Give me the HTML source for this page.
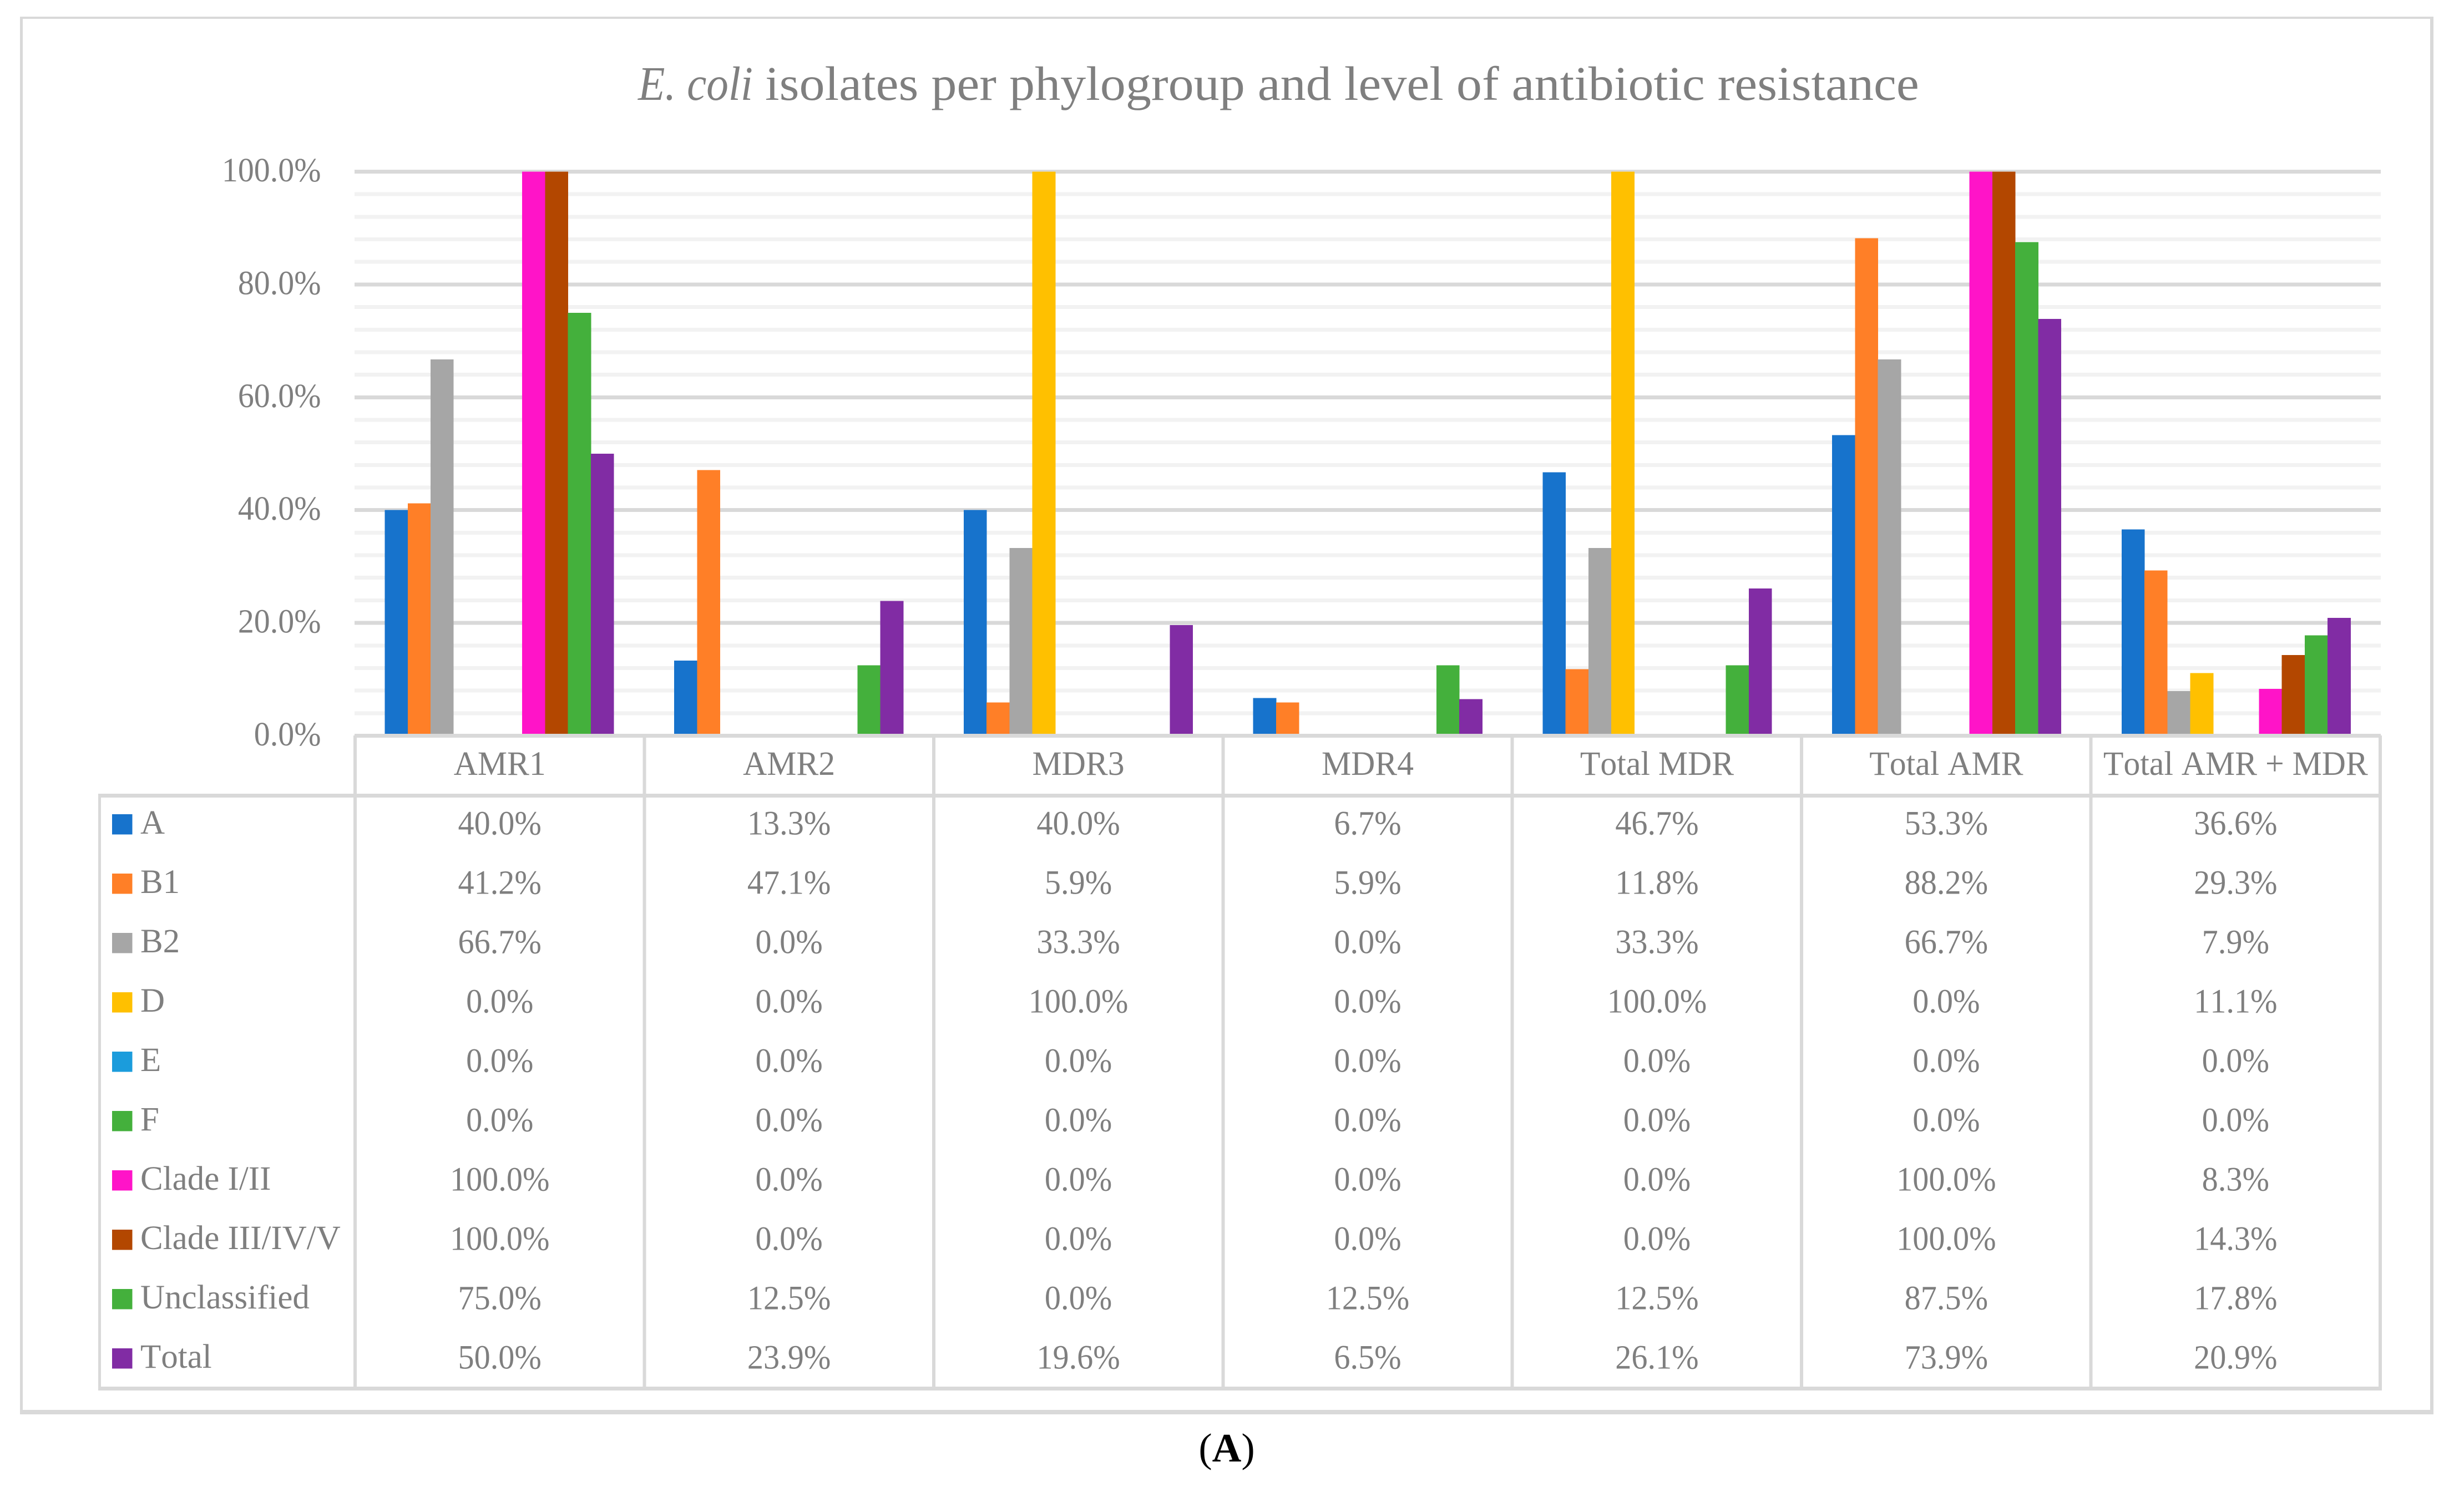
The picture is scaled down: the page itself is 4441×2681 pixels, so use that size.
<!DOCTYPE html>
<html lang="en">
<head>
<meta charset="utf-8">
<title>E. coli isolates per phylogroup and level of antibiotic resistance</title>
<style>
html,body{margin:0;padding:0;background:#fff;}
body{width:4441px;height:2681px;overflow:hidden;}
svg{display:block;position:absolute;left:0;top:0;}
text{font-family:"Liberation Serif",serif;font-kerning:none;}
</style>
</head>
<body>
<svg id="chart" xmlns="http://www.w3.org/2000/svg" width="4441" height="2681" viewBox="0 0 4441 2681">
  <rect x="0" y="0" width="4441" height="2681" fill="#ffffff"/>
  <g fill="#d9d9d9" shape-rendering="crispEdges">
    <rect x="36" y="30" width="4350" height="4"/>
    <rect x="36" y="2542" width="4350" height="8"/>
    <rect x="36" y="30" width="5" height="2520"/>
    <rect x="4380" y="30" width="6" height="2520"/>
  </g>
  <g fill="#7f7f7f" font-size="87">
    <text id="title-italic" font-style="italic">E. coli</text>
    <text id="title-rest">isolates per phylogroup and level of antibiotic resistance</text>
  </g>
  <g id="grid" shape-rendering="crispEdges"></g>
  <g id="bars" shape-rendering="crispEdges"></g>
  <g id="ticks" fill="#7f7f7f"></g>
  <g id="table" fill="#7f7f7f"></g>
  <text x="2211" y="2635" font-size="73" text-anchor="middle" fill="#000000">(<tspan font-weight="bold">A</tspan>)</text>
</svg>
<script>
const categories = ["AMR1", "AMR2", "MDR3", "MDR4", "Total MDR", "Total AMR", "Total AMR + MDR"];
const seriesNames = ["A", "B1", "B2", "D", "E", "F", "Clade I/II", "Clade III/IV/V", "Unclassified", "Total"];
const seriesColors = ["#1773cc", "#ff7f27", "#a6a6a6", "#ffc000", "#1b9cdc", "#44b03c", "#ff14c8", "#b34700", "#44b03c", "#812ca4"];
const valuesA = [40.0, 13.3, 40.0, 6.7, 46.7, 53.3, 36.6];
const valuesB1 = [41.2, 47.1, 5.9, 5.9, 11.8, 88.2, 29.3];
const valuesB2 = [66.7, 0.0, 33.3, 0.0, 33.3, 66.7, 7.9];
const valuesD = [0.0, 0.0, 100.0, 0.0, 100.0, 0.0, 11.1];
const valuesE = [0.0, 0.0, 0.0, 0.0, 0.0, 0.0, 0.0];
const valuesF = [0.0, 0.0, 0.0, 0.0, 0.0, 0.0, 0.0];
const valuesCladeI = [100.0, 0.0, 0.0, 0.0, 0.0, 100.0, 8.3];
const valuesCladeIII = [100.0, 0.0, 0.0, 0.0, 0.0, 100.0, 14.3];
const valuesUnclassified = [75.0, 12.5, 0.0, 12.5, 12.5, 87.5, 17.8];
const valuesTotal = [50.0, 23.9, 19.6, 6.5, 26.1, 73.9, 20.9];
const yTickValues = [0, 20, 40, 60, 80, 100];
const yMinorStep = 4;

const allSeries = [valuesA, valuesB1, valuesB2, valuesD, valuesE, valuesF, valuesCladeI, valuesCladeIII, valuesUnclassified, valuesTotal];

const NS = "http://www.w3.org/2000/svg";
const plotLeft = 639, plotRight = 4291;
const y0 = 1326.5, y100 = 309.5;
const tableLeft = 177, tableRight = 4293;
const rowHeight = 107;
const bandWidth = (plotRight - plotLeft) / categories.length;
const bandGap = 54.5;
const barWidth = (bandWidth - 2 * bandGap) / seriesNames.length;
const colLeft = 640, colWidth = 521.43;

function yScale(v) { return y0 - (v / 100) * (y0 - y100); }
function xScale(catIndex, seriesIndex) { return plotLeft + catIndex * bandWidth + bandGap + seriesIndex * barWidth; }

function makeRect(parent, x, y, w, h, fill) {
  const r = document.createElementNS(NS, "rect");
  r.setAttribute("x", x);
  r.setAttribute("y", y);
  r.setAttribute("width", w);
  r.setAttribute("height", h);
  r.setAttribute("fill", fill);
  parent.appendChild(r);
  return r;
}
function makeText(parent, str, x, y, size, anchor, sx) {
  const t = document.createElementNS(NS, "text");
  t.setAttribute("transform", "translate(" + x + " " + y + ") scale(" + sx + " 1)");
  t.setAttribute("font-size", size);
  t.setAttribute("text-anchor", anchor);
  t.setAttribute("fill", "#7f7f7f");
  t.textContent = str;
  parent.appendChild(t);
  return t;
}

const grid = document.getElementById("grid");
for (let v = 0; v <= 100; v += yMinorStep) {
  if (v % 20 === 0) continue;
  const line = makeRect(grid, plotLeft, yScale(v) - 3.5, plotRight - plotLeft, 7, "#f2f2f2");
  
  
}
yTickValues.forEach(function (v) {
  if (v === 0) return;
  const line = makeRect(grid, plotLeft, yScale(v) - 3.5, plotRight - plotLeft, 7, "#d9d9d9");
  
  
});

const barsGroup = document.getElementById("bars");
allSeries.forEach(function (vals, s) {
  vals.forEach(function (v, c) {
    if (v <= 0) return;
    const bar = makeRect(barsGroup, xScale(c, s), yScale(v), barWidth + 0.4, y0 - yScale(v), seriesColors[s]);
    
    
  });
});

const ticksGroup = document.getElementById("ticks");
yTickValues.forEach(function (v) {
  const label = makeText(ticksGroup, v.toFixed(1) + "%", 578.5, yScale(v) + 17.5, 61, "end", 0.95);
  
  
});

const table = document.getElementById("table");
const lines = document.createElementNS(NS, "g");


lines.setAttribute("shape-rendering", "crispEdges");
table.appendChild(lines);

const axisLine = makeRect(lines, plotLeft, 1323, plotRight - plotLeft, 7, "#d9d9d9");


const headerLine = makeRect(lines, tableLeft, 1431, tableRight - tableLeft, 7, "#d9d9d9");


const bottomLine = makeRect(lines, tableLeft, 2500, tableRight - tableLeft, 7, "#d9d9d9");


const legendEdge = makeRect(lines, 177, 1431, 5, 1076, "#d9d9d9");


for (let c = 0; c <= categories.length; c++) {
  const col = makeRect(lines, colLeft + c * colWidth - 3, 1326, 6, 1181, "#d9d9d9");
  
  
}

categories.forEach(function (name, c) {
  const head = makeText(table, name, colLeft + (c + 0.5) * colWidth, 1397, 61, "middle", 0.98);
  
  
});

seriesNames.forEach(function (name, s) {
  const swatch = makeRect(table, 202, 1468 + s * rowHeight, 36.5, 36.5, seriesColors[s]);
  
  
  swatch.setAttribute("shape-rendering", "crispEdges");
  const label = makeText(table, name, 253, 1503 + s * rowHeight, 61, "start", 1.0);
  
  
  allSeries[s].forEach(function (v, c) {
    const cell = makeText(table, v.toFixed(1) + "%", colLeft + (c + 0.5) * colWidth, 1504.5 + s * rowHeight, 61, "middle", 0.955);
    
    
  });
});

const titleItalic = document.getElementById("title-italic");
titleItalic.setAttribute("transform", "translate(1150 180) scale(" + (207 / titleItalic.getComputedTextLength()) + " 1)");
const titleRest = document.getElementById("title-rest");
titleRest.setAttribute("transform", "translate(1379 180) scale(" + (2080 / titleRest.getComputedTextLength()) + " 1)");
</script>
</body>
</html>
